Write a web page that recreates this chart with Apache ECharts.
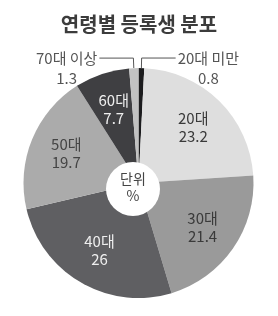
<!DOCTYPE html>
<html>
<head>
<meta charset="utf-8">
<script src="https://cdn.jsdelivr.net/npm/echarts@6/dist/echarts.min.js"></script>
<style>
  html, body { margin: 0; padding: 0; background: #fff; }
  #chart { width: 278px; height: 316px; }
</style>
</head>
<body>
<div id="chart"></div>
<script>
// 데이터
const categories = ['20대 미만', '20대', '30대', '40대', '50대', '60대', '70대 이상'];
const values = [0.8, 23.2, 21.4, 26, 19.7, 7.7, 1.3];
const outsideNames = ['20대 미만', '70대 이상'];
const colors = ['#1c1c1e', '#dedede', '#9a9a9a', '#5f5f62', '#ababab', '#3f3f42', '#c2c2c2'];
const textColors = ['#444', '#3a3a3a', '#3a3a3a', '#eeeeee', '#444', '#eeeeee', '#444'];

const font = '"Noto Sans CJK KR", "Noto Sans", sans-serif';
const center = [138.5, 183];

let myChart = echarts.init(document.getElementById('chart'));

let option = {
  animation: false,
  title: {
    text: '연령별 등록생 분포',
    left: 'center',
    top: 9,
    textStyle: { fontFamily: font, fontSize: 20, fontWeight: 'bold', color: '#3c3c3c' }
  },
  series: [
    {
      // 색 조각 + 바깥 라벨
      type: 'pie',
      center: center,
      radius: [0, 115],
      startAngle: 90,
      clockwise: true,
      silent: true,
      avoidLabelOverlap: false,
      data: categories.map((name, i) => {
        let outside = outsideNames.indexOf(name) >= 0;
        return {
          name: name,
          value: values[i],
          itemStyle: { color: colors[i] },
          label: { show: outside },
          labelLine: { show: outside }
        };
      }),
      label: {
        position: 'outside',
        fontFamily: font,
        distanceToLabelLine: 2,
        padding: [20, 0, 0, 0],
        formatter: '{n|{b}}\n{v|{c}}',
        rich: {
          n: { fontFamily: font, fontSize: 15, lineHeight: 20, color: '#555' },
          v: { fontFamily: font, fontSize: 15, lineHeight: 20, color: '#555', align: 'center' }
        }
      },
      labelLine: {
        length: 10,
        length2: 34,
        smooth: false,
        lineStyle: { color: '#555', width: 1 }
      }
    },
    {
      // 안쪽 라벨용 투명 링
      type: 'pie',
      center: center,
      radius: [35, 115],
      startAngle: 90,
      clockwise: true,
      silent: true,
      data: categories.map((name, i) => ({
        name: name,
        value: values[i],
        itemStyle: { color: 'rgba(0,0,0,0)' },
        label: { show: outsideNames.indexOf(name) < 0, color: textColors[i] }
      })),
      label: {
        position: 'inside',
        fontFamily: font,
        fontSize: 15,
        lineHeight: 18,
        formatter: '{b}\n{c}'
      },
      labelLine: { show: false }
    }
  ],
  graphic: [
    {
      type: 'circle',
      shape: { cx: 133, cy: 189, r: 27 },
      style: { fill: '#fff' },
      z: 100
    },
    {
      type: 'text',
      x: 133,
      y: 187,
      z: 101,
      style: {
        text: '단위\n%',
        fontFamily: font,
        fontSize: 14,
        lineHeight: 17,
        fill: '#444',
        align: 'center',
        verticalAlign: 'middle'
      }
    }
  ]
};

myChart.setOption(option);
window.addEventListener('resize', () => {
  myChart.resize();
}, true);
</script>
</body>
</html>
